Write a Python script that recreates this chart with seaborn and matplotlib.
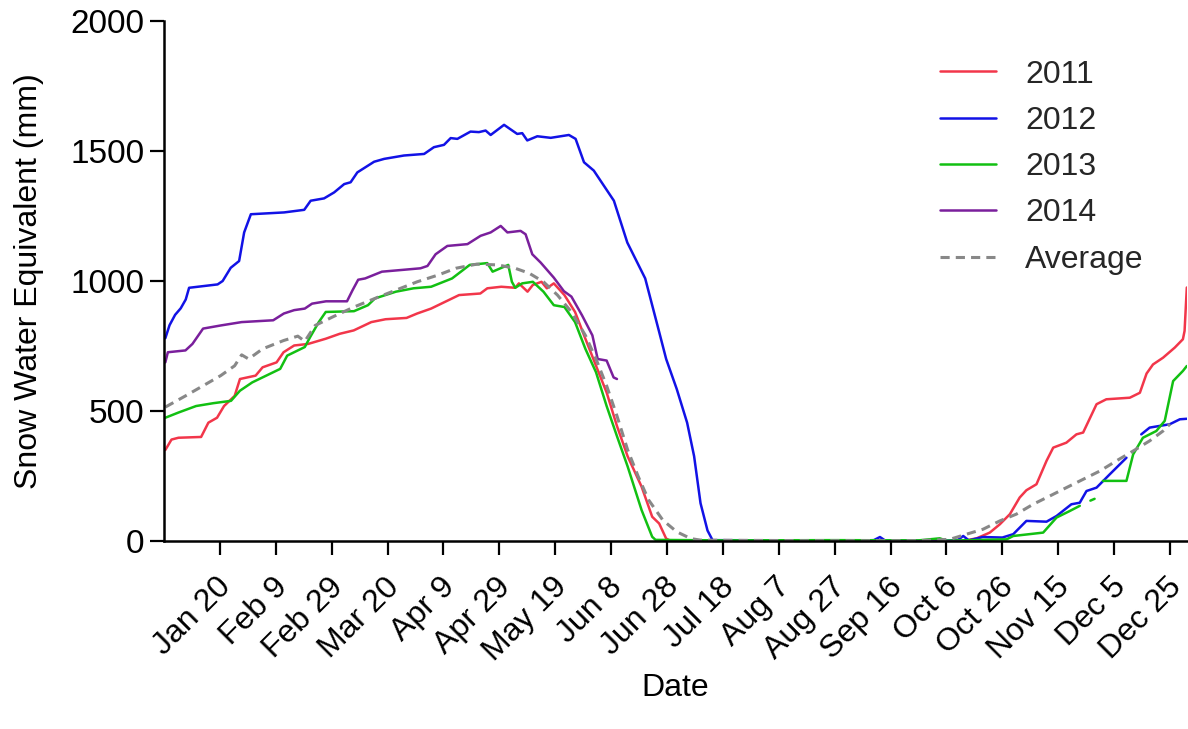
import numpy as np
import matplotlib
matplotlib.use('Agg')
import matplotlib.pyplot as plt
import matplotlib.transforms as mtransforms
import seaborn as sns

# x axis: day of year (leap-year calendar), ticks every 20 days
tick_days = [20, 40, 60, 80, 100, 120, 140, 160, 180, 200, 220, 240,
             260, 280, 300, 320, 340, 360]
tick_labels = ['Jan 20', 'Feb 9', 'Feb 29', 'Mar 20', 'Apr 9', 'Apr 29',
               'May 19', 'Jun 8', 'Jun 28', 'Jul 18', 'Aug 7', 'Aug 27',
               'Sep 16', 'Oct 6', 'Oct 26', 'Nov 15', 'Dec 5', 'Dec 25']
y_ticks = [0, 500, 1000, 1500, 2000]

nan = np.nan

days_2011 = [0.5, 2.7, 5.2, 13.3, 15.9, 19.0, 21.5, 25.3, 27.2, 32.8, 35.3, 40.3,
             42.8, 46.6, 51.6, 57.9, 62.9, 67.9, 74.2, 79.3, 86.8, 90.6, 95.6,
             100.6, 105.6, 113.2, 115.7, 120.7, 125.7, 127.0, 130.1, 132.0,
             135.1, 137.0, 139.5, 143.3, 147.1, 150.8, 154.6, 158.4, 162.1,
             165.9, 170.9, 174.7, 177.2, 179.7, 181, 200, 240, 270, 286,
             290.8, 295.5, 299.1, 302.7, 306.2, 308.6, 312.2, 315.8, 318.2,
             322.9, 326.5, 328.9, 333.7, 337.2, 345.6, 349.2, 351.6, 353.9,
             357.5, 361.7, 364.6, 365.2, 366]
swe_2011 = [350, 390, 397, 400, 455, 474, 519, 558, 623, 636, 668, 687,
            726, 752, 758, 778, 797, 810, 842, 853, 858, 875, 894,
            920, 946, 952, 972, 978, 974, 991, 959, 985,
            997, 972, 991, 946, 881, 778, 674, 571, 442,
            326, 209, 93, 67, 9, 2, 0, 2, 0, 0,
            10, 32, 64, 103, 167, 195, 218, 308, 359,
            378, 410, 417, 526, 545, 551, 570, 644, 679,
            705, 744, 776, 808, 975]

days_2012 = [0.5, 2, 4, 6, 7.8, 9.0, 19.2, 21.0, 23.9, 26.9, 28.7, 31.1, 43.0,
             50.2, 52.5, 57.3, 60.9, 64.5, 66.8, 69.2, 75.2, 78.8, 85.9, 93.1,
             96.6, 100.2, 102.6, 105.0, 109.7, 112.7, 115.1, 116.9, 121.7,
             126.4, 128.2, 130.0, 133.6, 138.4, 144.9, 147.3, 150.3, 153.8,
             161.0, 165.8, 172.2, 177.2, 179.7, 183.5, 187.2, 189.7, 192.0,
             194.5, 196.3, 220, 245, 254, 256.2, 258, 277.6, 284, 286, 288,
             293, 300, 303.9, 308.6, 315.8, 319.4, 324.7, 327.7, 330.1, 333.7,
             338.4, 344.4, 347, 349.7, 352.7, 359.9, 363.5, 366]
swe_2012 = [780, 830, 870, 895, 929, 974, 987, 1000, 1051, 1077, 1187, 1257, 1264,
            1274, 1309, 1318, 1341, 1373, 1380, 1418, 1459, 1470, 1483, 1489,
            1515, 1524, 1550, 1547, 1575, 1573, 1579, 1562, 1601,
            1566, 1569, 1541, 1557, 1551, 1562, 1547, 1457, 1425,
            1309, 1148, 1010, 804, 700, 584, 455, 326, 145,
            40, 3, 2, 0, 3, 15, 2, 0, 3, 19, 2,
            15, 13, 26, 77, 74, 96, 141, 147, 192, 205,
            256, 320, nan, 410, 436, 449, 468, 470]

days_2013 = [0.5, 5.2, 11.5, 17.7, 24.0, 27.2, 31.6, 36.6, 41.6, 44.1, 50.4, 52.3,
             55.4, 57.9, 68.0, 73.0, 75.5, 83.0, 89.3, 95.6, 103.1, 109.4,
             115.7, 117.6, 123.2, 124.5, 125.7, 128.2, 132.0, 135.8, 139.5,
             143.3, 147.1, 150.8, 154.6, 158.4, 162.1, 165.9, 170.9, 174.7,
             175.9, 200, 240, 270, 277.6, 280, 301.5, 303.9, 314.6, 319.4,
             324.1, 327.7, 329.5, 331.5, 333, 334.5, 336, 344.4, 346.8, 350.3,
             355.1, 358.1, 361.1, 364.6, 366]
swe_2013 = [474, 494, 519, 530, 539, 578, 610, 636, 662, 713, 746, 784,
            842, 881, 884, 907, 933, 959, 972, 978, 1010, 1062,
            1069, 1036, 1062, 997, 974, 991, 997, 959, 907,
            900, 842, 739, 649, 519, 403, 287, 119, 16,
            4, 2, 3, 2, 10, 1, 6, 19, 32, 90,
            115, 135, nan, 155, 162, nan, 231, 231, 333, 397,
            423, 462, 615, 654, 673]

days_2014 = [0.5, 1.4, 7.7, 10.2, 14.0, 20.3, 27.8, 39.1, 42.9, 46.6, 50.4, 53.0,
             58.0, 65.5, 67.5, 69.5, 72.0, 78.0, 85.5, 91.8, 94.3, 97.2, 101.4,
             108.6, 113.3, 116.9, 120.5, 122.9, 127.6, 129.4, 131.8, 134.8,
             139.5, 143.1, 145.8, 149.6, 153.3, 155.2, 158.4, 160.9, 162.1,
             200, 250, 292]
swe_2014 = [687, 726, 733, 758, 817, 829, 842, 849, 875, 888, 894, 913,
            922, 922, 965, 1005, 1010, 1036, 1043, 1049, 1058, 1103, 1135,
            1142, 1174, 1187, 1212, 1187, 1193, 1180, 1103, 1071,
            1013, 961, 940, 868, 791, 700, 694, 629, 623,
            nan, 0, 0]

days_avg = [0.5, 7.7, 14.0, 20.3, 25.3, 27.8, 30.3, 35.3, 42.8, 47.9, 50.4, 54.1,
            60.4, 68.0, 75.5, 83.0, 90.6, 98.1, 104.4, 111.9, 119.4, 125.7,
            130.7, 135.8, 140.8, 145.8, 150.8, 154.6, 158.4, 162.1, 165.9,
            169.7, 173.4, 178.5, 183.5, 188.5, 192, 230, 270, 281.2, 287.2,
            293.1, 299.1, 305, 311, 317, 322.9, 328.9, 334.9, 340.8, 346.8,
            352.7, 357.5, 360]
swe_avg = [515, 558, 597, 636, 674, 716, 700, 739, 771, 788, 768, 829,
           862, 900, 933, 965, 997, 1023, 1049, 1065, 1062, 1049,
           1030, 997, 946, 881, 791, 700, 597, 481, 351,
           248, 158, 80, 35, 9, 3, 1, 1, 6, 26,
           45, 77, 103, 141, 173, 205, 237, 269, 308, 346,
           385, 423, 450]

series = [
    ('2011', days_2011, swe_2011, '#f2364a', '-'),
    ('2012', days_2012, swe_2012, '#1212e6', '-'),
    ('2013', days_2013, swe_2013, '#12c012', '-'),
    ('2014', days_2014, swe_2014, '#7a1f9c', '-'),
    ('Average', days_avg, swe_avg, '#888888', (0, (3, 2))),
]


def split_segments(days, vals):
    """Break a series into pieces wherever a NaN marks a gap."""
    segs, cur_d, cur_v = [], [], []
    for d, v in zip(days, vals):
        if np.isnan(v):
            if cur_d:
                segs.append((cur_d, cur_v))
            cur_d, cur_v = [], []
        else:
            cur_d.append(d)
            cur_v.append(v)
    if cur_d:
        segs.append((cur_d, cur_v))
    return segs


sns.set_theme(style='ticks')
plt.rcParams['font.family'] = ['Liberation Sans', 'DejaVu Sans']

fig = plt.figure(figsize=(11.88, 7.29), dpi=100)
ax = fig.add_axes([0.138, 0.258, 0.861, 0.713])

for name, days, vals, color, ls in series:
    lw = 2.2 if name == 'Average' else 1.8
    for i, (d, v) in enumerate(split_segments(days, vals)):
        sns.lineplot(x=np.array(d), y=np.array(v), ax=ax, color=color,
                     linewidth=lw, linestyle=ls, estimator=None, sort=False,
                     label=name if i == 0 else None)

ax.set_xlim(0, 366)
ax.set_ylim(0, 2000)
ax.set_xticks(tick_days)
ax.set_xticklabels(tick_labels, rotation=45, ha='right', va='center',
                   rotation_mode='anchor')
ax.set_yticks(y_ticks)

ax.tick_params(axis='both', direction='out', length=10, width=1.6,
               color='black', labelcolor='black')
ax.tick_params(axis='y', labelsize=24, pad=4)
ax.tick_params(axis='x', labelsize=23, pad=20)
# nudge the slanted date labels slightly right, as in the original
shift = mtransforms.ScaledTranslation(5 / 72, 0, fig.dpi_scale_trans)
for lbl in ax.get_xticklabels():
    lbl.set_transform(lbl.get_transform() + shift)

for side in ['left', 'bottom']:
    ax.spines[side].set_linewidth(1.8)
    ax.spines[side].set_color('black')
sns.despine(ax=ax)

ax.set_xlabel('Date', fontsize=23, color='black', labelpad=4)
ax.set_ylabel('Snow Water Equivalent (mm)', fontsize=23, color='black',
              labelpad=19)

ax.legend(loc='upper left', bbox_to_anchor=(0.759, 0.926), frameon=False,
          fontsize=23, handlelength=1.75, handletextpad=0.9, labelspacing=0.51,
          borderaxespad=0, borderpad=0)

fig.savefig('out.png', dpi=100)
